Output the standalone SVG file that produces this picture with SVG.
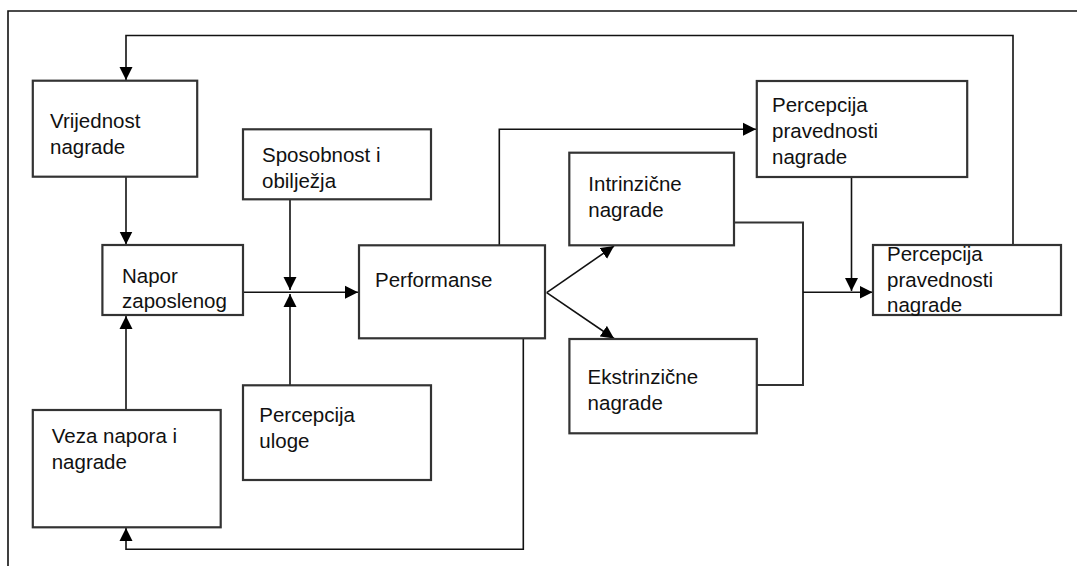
<svg xmlns="http://www.w3.org/2000/svg" width="1077" height="566" viewBox="0 0 1077 566">
<style>
.box{fill:#fff;stroke:#333;stroke-width:2.2}
.c{fill:none;stroke:#111;stroke-width:1.6}
.cg{fill:none;stroke:#333;stroke-width:2}
text{font-family:"Liberation Sans",Arial,sans-serif;font-size:20.5px;fill:#111}
</style>
<defs>
<marker id="a" markerUnits="userSpaceOnUse" markerWidth="14" markerHeight="14" refX="13" refY="7" orient="auto" viewBox="0 0 14 14">
<path d="M0,0.5 L13,7 L0,13.5 z" fill="#000"/>
</marker>
</defs>
<rect width="1077" height="566" fill="#fff"/>
<path d="M1080,11 H8 V570" fill="none" stroke="#111" stroke-width="1.6"/>
<g id="connectors">
<path class="c" d="M1013,245 V35.5 H126 V80" marker-end="url(#a)"/>
<path class="c" d="M126,177 V244.5" marker-end="url(#a)"/>
<path class="c" d="M126,410 V316" marker-end="url(#a)"/>
<path class="c" d="M290,199.5 V290" marker-end="url(#a)"/>
<path class="c" d="M290,385 V294" marker-end="url(#a)"/>
<path class="c" d="M243,292.3 H358" marker-end="url(#a)"/>
<path class="c" d="M499.3,245.3 V129.3 H756" marker-end="url(#a)"/>
<path class="c" d="M546.7,292.7 L614,246" marker-end="url(#a)"/>
<path class="c" d="M546.7,292.7 L614,338.5" marker-end="url(#a)"/>
<path class="c" d="M523.3,338.3 V549.3 H126 V528" marker-end="url(#a)"/>
<path class="cg" d="M734,222.5 H803 V385 H757"/>
<path class="c" d="M803,292.3 H872.5" marker-end="url(#a)"/>
<path class="c" d="M851.5,177 V291" marker-end="url(#a)"/>
</g>
<g id="vrijednost">
<rect class="box" x="32.8" y="80.7" width="164.4" height="96"/>
<text x="50" y="128.3">Vrijednost</text>
<text x="50" y="154.3">nagrade</text>
</g>
<g id="napor">
<rect class="box" x="102.4" y="245" width="140.6" height="70"/>
<text x="122" y="282.5">Napor</text>
<text x="122" y="308.3">zaposlenog</text>
</g>
<g id="sposobnost">
<rect class="box" x="243" y="129.3" width="188" height="70"/>
<text x="262" y="162.3">Sposobnost i</text>
<text x="262" y="188.3">obilježja</text>
</g>
<g id="veza">
<rect class="box" x="32.8" y="410" width="187.9" height="117.3"/>
<text x="51.7" y="442.7">Veza napora i</text>
<text x="51.7" y="468.7">nagrade</text>
</g>
<g id="uloge">
<rect class="box" x="243" y="385.3" width="188" height="94.7"/>
<text x="259.3" y="421.7">Percepcija</text>
<text x="259.3" y="447.7">uloge</text>
</g>
<g id="performanse">
<rect class="box" x="359" y="245.3" width="186" height="93"/>
<text x="375" y="286.7">Performanse</text>
</g>
<g id="intrinzicne">
<rect class="box" x="569.3" y="152.7" width="164.7" height="92.6"/>
<text x="588.3" y="190.7">Intrinzične</text>
<text x="588.3" y="216.7">nagrade</text>
</g>
<g id="ekstrinzicne">
<rect class="box" x="569.4" y="339" width="187.4" height="94.3"/>
<text x="587.6" y="384">Ekstrinzične</text>
<text x="587.6" y="410">nagrade</text>
</g>
<g id="percepcija-gornja">
<rect class="box" x="756.8" y="81" width="210.4" height="96"/>
<text x="772" y="111.7">Percepcija</text>
<text x="772" y="137.7">pravednosti</text>
<text x="772" y="164">nagrade</text>
</g>
<g id="percepcija-desna">
<rect class="box" x="873" y="245" width="188" height="70"/>
<text x="887" y="261">Percepcija</text>
<text x="887" y="287">pravednosti</text>
<text x="887" y="312">nagrade</text>
</g>
</svg>
